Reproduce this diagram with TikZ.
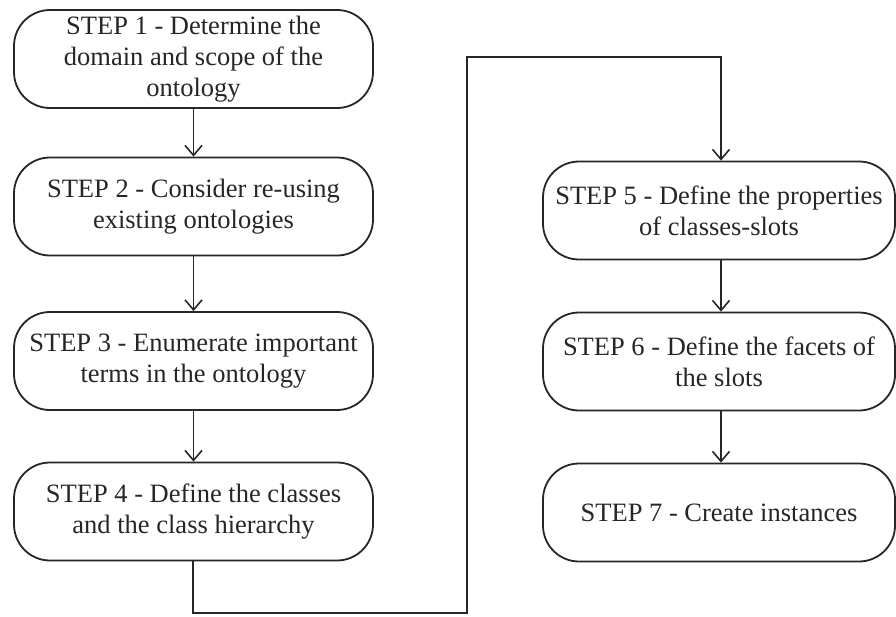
\documentclass[tikz,border=0pt]{standalone}
\usepackage{fontspec}
\setmainfont{Liberation Serif}
\usetikzlibrary{arrows.meta}
\definecolor{ink}{HTML}{262626}
\tikzset{
  x=1pt, y=-1pt,
  stepbox/.style={draw=ink, line width=1.8pt, rounded corners=36pt,
    minimum height=98pt, align=center, text=ink, inner sep=0pt,
    font=\fontsize{26.5}{31}\selectfont},
  leftbox/.style={stepbox, minimum width=359pt},
  rightbox/.style={stepbox, minimum width=352pt},
  flow/.style={draw=ink, line width=1.8pt, -{Straight Barb[length=10pt,width=17pt,line width=1.6pt]}},
}
\begin{document}
\begin{tikzpicture}
\useasboundingbox (0,0) rectangle (896,616);
\node[leftbox] (s1) at (193.5,59) {STEP 1 - Determine the\\domain and scope of the\\ontology};
\node[leftbox] (s2) at (193.5,206.5) {STEP 2 - Consider re-using\\existing ontologies};
\node[leftbox] (s3) at (193.5,361) {STEP 3 - Enumerate important\\terms in the ontology};
\node[leftbox] (s4) at (193.5,511.5) {STEP 4 - Define the classes\\and the class hierarchy};
\node[rightbox] (s5) at (719,210.5) {STEP 5 - Define the properties\\of classes-slots};
\node[rightbox] (s6) at (719,361.5) {STEP 6 - Define the facets of\\the slots};
\node[rightbox] (s7) at (719,512.5) {STEP 7 - Create instances};
\coordinate (c1) at (193,613);
\coordinate (c2) at (467,613);
\coordinate (c3) at (467,57);
\coordinate (c4) at (721,57);
\draw[flow] (s1.south) -- (s2.north);
\draw[flow] (s2.south) -- (s3.north);
\draw[flow] (s3.south) -- (s4.north);
\draw[flow] (s4.south -| c1) -- (c1) -- (c2) -- (c3) -- (c4) -- (c4 |- s5.north);
\draw[flow] (s5.south -| c4) -- (c4 |- s6.north);
\draw[flow] (s6.south -| c4) -- (c4 |- s7.north);
\end{tikzpicture}
\end{document}
